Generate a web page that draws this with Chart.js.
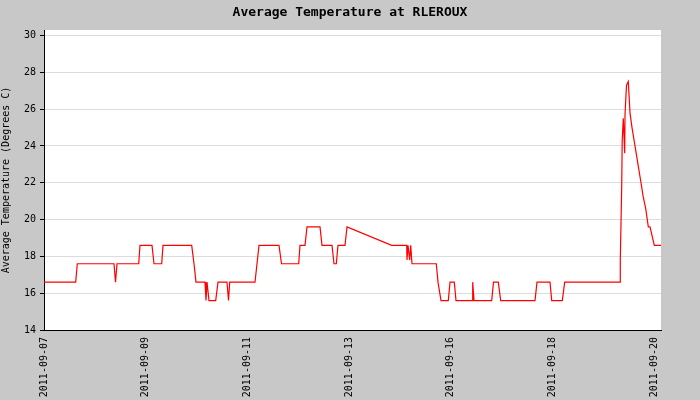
<!DOCTYPE html>
<html><head><script src="https://cdn.jsdelivr.net/npm/chart.js@4"></script>
<style>body{margin:0;background:#c8c8c8}canvas{display:block}</style></head>
<body><div style="width:700px;height:400px"><canvas id="c"></canvas></div>
<script>
const tickLabels=["2011-09-07","2011-09-09","2011-09-11","2011-09-13","2011-09-16","2011-09-18","2011-09-20"];
// x in pixel-like time units from the image (0 = 2011-09-07)
const xs=[0,31.7,33.3,70,71.5,73,94.7,96,108,110,117.7,119,147.7,150,152,161,162,163,165,171.7,174,183,184.5,185.7,211,213,215,235,237.5,254.7,256,261,263,276,278,288,290,292.3,294,301,303,303.3,347.7,362.7,363,364,365.7,366.7,368,392.3,394,397,404.3,406,410.3,412,428,428.7,430,447.7,449.5,454.3,456.7,491,493,506,507.7,518.3,520.7,576,576.3,577.7,578.2,579.3,580.7,581,582.5,584.3,585,586,588,591,594,597,599,601.7,604.3,606,610.3,611.5,617];
const temps=[16.6,16.6,17.6,17.6,16.6,17.6,17.6,18.6,18.6,17.6,17.6,18.6,18.6,17.6,16.6,16.6,15.6,16.6,15.6,15.6,16.6,16.6,15.6,16.6,16.6,17.6,18.6,18.6,17.6,17.6,18.6,18.6,19.6,19.6,18.6,18.6,17.6,17.6,18.6,18.6,19.6,19.6,18.6,18.6,17.8,18.6,17.8,18.6,17.6,17.6,16.6,15.6,15.6,16.6,16.6,15.6,15.6,16.6,15.6,15.6,16.6,16.6,15.6,15.6,16.6,16.6,15.6,15.6,16.6,16.6,17.8,21.8,24.3,25.5,23.6,25.7,27.3,27.5,26.8,25.8,25.0,24.0,23.0,22.0,21.3,20.6,19.6,19.6,18.6,18.6,18.6];
const yTicks=[14,16,18,20,22,24,26,28,30];
const step=101.7;
const font={family:"DejaVu Sans Mono",size:10};
new Chart(document.getElementById('c'),{
type:'line',
data:{datasets:[{data:xs.map((x,i)=>({x:x,y:temps[i]})),borderColor:'#ff0000',borderWidth:1.2,pointRadius:0,tension:0}]},
options:{responsive:true,maintainAspectRatio:false,animation:false,
layout:{padding:{top:30,right:39,left:0,bottom:0}},
plugins:{legend:{display:false},tooltip:{enabled:false},title:{display:false}},
scales:{
x:{type:'linear',min:0,max:617,
afterBuildTicks:s=>{s.ticks=tickLabels.map((l,i)=>({value:i*step}));},
afterFit:s=>{s.height=70;},
ticks:{font:font,color:'#000',maxRotation:90,minRotation:90,autoSkip:false,callback:(v,i)=>tickLabels[i]},
grid:{display:false,drawOnChartArea:false,drawTicks:true,tickLength:4,color:'#000'},
border:{color:'#000'}},
y:{min:14,max:30.3,
afterBuildTicks:s=>{s.ticks=yTicks.map(v=>({value:v}));},
afterFit:s=>{s.width=44;},
title:{display:true,text:'Average Temperature (Degrees C)',font:font,color:'#000',padding:0},
ticks:{font:font,color:'#000',padding:4},
grid:{color:'#dcdcdc',tickLength:4,tickColor:'#000'},
border:{color:'#000'}}
}},
plugins:[{id:'bg',beforeDraw(c){const x=c.ctx,a=c.chartArea;x.save();x.fillStyle='#c8c8c8';x.fillRect(0,0,c.width,c.height);x.fillStyle='#fff';x.fillRect(a.left,a.top,a.right-a.left,a.bottom-a.top);x.restore();},
afterDraw(c){const x=c.ctx;x.save();x.font='bold 13px "DejaVu Sans Mono"';x.fillStyle='#000';x.textAlign='center';x.textBaseline='middle';x.fillText('Average Temperature at RLEROUX',350,13);x.restore();}}]
});
</script></body></html>
